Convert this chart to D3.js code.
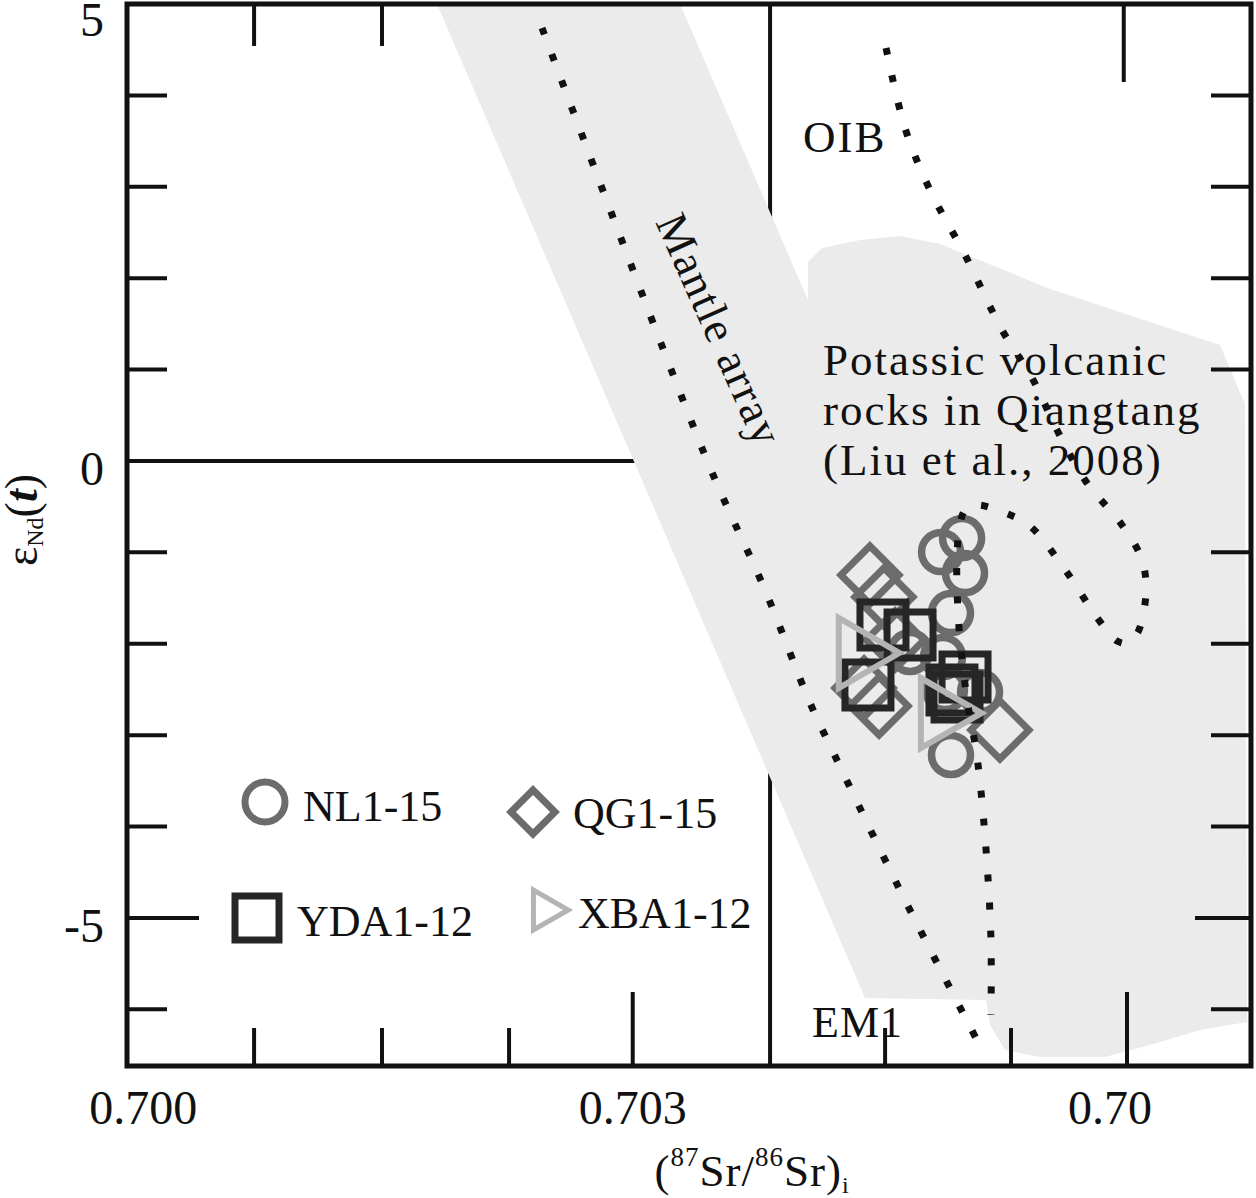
<!DOCTYPE html>
<html><head><meta charset="utf-8">
<script src="https://cdn.jsdelivr.net/npm/d3@7"></script>
<style>
html,body{margin:0;padding:0;background:#fff;}
svg{display:block;}
text{font-family:"Liberation Serif","Times New Roman",serif;fill:#111;}
</style></head><body>
<svg id="chart" width="1256" height="1198"></svg>
<script>
// ---------------- data ----------------
const xDomain = [0.69990, 0.70679];
const yDomain = [-6.62, 5];

const xMinorBottom = [0.700679, 0.701463, 0.702242, 0.704547, 0.705319];
const xMajorBottom = [0.703, 0.70603];
const xMinorTop = [0.700679, 0.701463];
const xMajorTop = [0.70601];
const xLabelValues = [0.700, 0.703, 0.706];
const xLabelTexts = ["0.700", "0.703", "0.70"];

const yMinorLeft = [-6, -4, -3, -2, -1, 1, 2, 3, 4];
const yMajorLeft = [-5];
const yMinorRight = [-6, -4, -3, -2, -1, 1, 2, 3, 4];
const yMajorRight = [-5];
const yLabelValues = [5, 0, -5];
const yLabelTexts = ["5", "0", "-5"];

const bulkSr = 0.703842;   // vertical reference line
const bulkNd = 0;          // horizontal reference line

// grey field: Mantle array band + potassic volcanic rocks of Qiangtang
const greyField = [
  [0.701800, 5.000], [0.703290, 5.000], [0.704074, 1.761], [0.704074, 2.177],
  [0.704160, 2.330], [0.704393, 2.418], [0.704638, 2.461], [0.704884, 2.374],
  [0.705558, 1.882], [0.706600, 1.269], [0.706753, 0.623], [0.706766, -6.139],
  [0.706477, -6.226], [0.706171, -6.391], [0.705895, -6.522], [0.705497, -6.522],
  [0.705282, -6.445], [0.705190, -6.172], [0.705166, -5.898], [0.704424, -5.876]
];

const mantleLine = [
  [0.702444, 4.737], [0.703462, -0.022], [0.703811, -1.412], [0.704087, -2.648],
  [0.704240, -3.228], [0.704638, -4.695], [0.705110, -6.336]
];

const oibLine = [
  [0.704553, 4.519], [0.704669, 3.643], [0.704822, 2.965], [0.705037, 2.254],
  [0.705264, 1.433], [0.705448, 0.908], [0.705607, 0.317], [0.705772, -0.208],
  [0.705999, -0.701], [0.706110, -1.029], [0.706146, -1.303], [0.706140, -1.565],
  [0.706097, -1.872], [0.706036, -1.992], [0.705969, -1.970], [0.705852, -1.729],
  [0.705656, -1.204], [0.705435, -0.712], [0.705282, -0.569], [0.705110, -0.482],
  [0.705037, -0.537], [0.704994, -0.865], [0.704994, -1.653], [0.705049, -2.605],
  [0.705110, -3.228], [0.705166, -4.257], [0.705196, -5.242], [0.705196, -6.062]
];

const NL = [
  [0.705019, -0.843], [0.704890, -0.996], [0.705037, -1.226], [0.704951, -1.664],
  [0.704700, -2.090], [0.704902, -2.145], [0.704914, -2.506], [0.705129, -2.528],
  [0.704951, -3.217]
];
const QG = [
  [0.704454, -1.248], [0.704540, -1.489], [0.704608, -1.959], [0.704418, -2.484],
  [0.704510, -2.681], [0.705251, -2.944]
];
const YDA = [
  [0.704534, -1.795], [0.704700, -1.904], [0.704442, -2.452], [0.705037, -2.364],
  [0.704988, -2.583], [0.704957, -2.506]
];
const XBA = [
  [0.704387, -2.101], [0.704890, -2.758]
];

const legendItems = ["NL1-15", "QG1-15", "YDA1-12", "XBA1-12"];

// ---------------- drawing ----------------
const svg = d3.select("#chart");
const plot = {left: 127, right: 1251, top: 4, bottom: 1066};
const x = d3.scaleLinear().domain(xDomain).range([plot.left, plot.right]);
const y = d3.scaleLinear().domain(yDomain).range([plot.bottom, plot.top]);

const colNL = "#6c6c6c", colQG = "#6c6c6c", colYDA = "#262626", colXBA = "#b4b4b4";
const black = "#111";

// reference lines (under the grey field)
svg.append("line").attr("x1", plot.left).attr("x2", x(bulkSr))
  .attr("y1", y(bulkNd)).attr("y2", y(bulkNd)).attr("stroke", black).attr("stroke-width", 4);
svg.append("line").attr("x1", x(bulkSr)).attr("x2", x(bulkSr))
  .attr("y1", plot.top).attr("y2", plot.bottom).attr("stroke", black).attr("stroke-width", 4);

// grey field
svg.append("path").datum(greyField)
  .attr("d", d3.line().x(d => x(d[0])).y(d => y(d[1])).curve(d3.curveLinearClosed))
  .attr("fill", "#ebebeb").attr("stroke", "none");

// markers
const gM = svg.append("g");
function symbols(data, type, size, color, sw, rot) {
  gM.selectAll(null).data(data).enter().append("path")
    .attr("d", d3.symbol().type(type).size(size)())
    .attr("transform", d => `translate(${x(d[0])},${y(d[1])}) rotate(${rot})`)
    .attr("fill", "none").attr("stroke", color).attr("stroke-width", sw);
}
symbols(QG, d3.symbolSquare, 1682, colQG, 7, 45);
symbols(NL, d3.symbolCircle, 1195, colNL, 7.5, 0);
symbols(YDA, d3.symbolSquare, 2116, colYDA, 7, 0);
symbols(XBA, d3.symbolTriangle, 2121, colXBA, 6, 90);

// dotted lines
const dotted = d3.line().x(d => x(d[0])).y(d => y(d[1])).curve(d3.curveCatmullRom.alpha(0.5));
[mantleLine, oibLine].forEach(pts => {
  svg.append("path").datum(pts).attr("d", dotted)
    .attr("fill", "none").attr("stroke", black).attr("stroke-width", 7)
    .attr("stroke-dasharray", "7,21").attr("stroke-linecap", "butt");
});

// axes ticks
const gA = svg.append("g").attr("stroke", black).attr("stroke-width", 4);
function vTicks(vals, yFrom, len) {
  gA.selectAll(null).data(vals).enter().append("line")
    .attr("x1", d => x(d)).attr("x2", d => x(d))
    .attr("y1", yFrom).attr("y2", yFrom + len);
}
function hTicks(vals, xFrom, len) {
  gA.selectAll(null).data(vals).enter().append("line")
    .attr("y1", d => y(d)).attr("y2", d => y(d))
    .attr("x1", xFrom).attr("x2", xFrom + len);
}
vTicks(xMinorBottom, plot.bottom, -38);
vTicks(xMajorBottom, plot.bottom, -74);
vTicks(xMinorTop, plot.top, 42);
vTicks(xMajorTop, plot.top, 78);
hTicks(yMinorLeft, plot.left, 40);
hTicks(yMajorLeft, plot.left, 72);
hTicks(yMinorRight, plot.right, -40);
hTicks(yMajorRight, plot.right, -56);

// frame
svg.append("rect").attr("x", plot.left).attr("y", plot.top)
  .attr("width", plot.right - plot.left).attr("height", plot.bottom - plot.top)
  .attr("fill", "none").attr("stroke", black).attr("stroke-width", 5);

// tick labels
svg.selectAll(null).data(xLabelValues).enter().append("text")
  .attr("x", d => x(d)).attr("y", 1124)
  .attr("dx", (d, i) => xLabelTexts[i].length < 5 ? "-0.25em" : 0)
  .attr("text-anchor", "middle").attr("font-size", 48)
  .text((d, i) => xLabelTexts[i]);
svg.selectAll(null).data(yLabelValues).enter().append("text")
  .attr("x", 104).attr("y", d => Math.max(y(d) + 24, 36))
  .attr("text-anchor", "end").attr("font-size", 48)
  .text((d, i) => yLabelTexts[i]);

// axis titles
const xt = svg.append("text").attr("x", 752).attr("y", 1186).attr("text-anchor", "middle")
  .attr("font-size", 45).attr("letter-spacing", 1);
xt.append("tspan").text("(");
xt.append("tspan").attr("font-size", 27).attr("dy", -20).text("87");
xt.append("tspan").attr("dy", 20).text("Sr/");
xt.append("tspan").attr("font-size", 27).attr("dy", -20).text("86");
xt.append("tspan").attr("dy", 20).text("Sr)");
xt.append("tspan").attr("font-size", 24).attr("dy", 7).text("i");

const yt = svg.append("text").attr("transform", "translate(37,520) rotate(-90)")
  .attr("text-anchor", "middle").attr("font-size", 46);
yt.append("tspan").text("ε");
yt.append("tspan").attr("font-size", 24).attr("dy", 6).text("Nd");
yt.append("tspan").attr("dy", -6).text("(");
yt.append("tspan").attr("font-style", "italic").attr("font-weight", "bold").text("t");
yt.append("tspan").text(")");

// annotations
svg.append("text").attr("x", 803).attr("y", 152).attr("font-size", 45)
  .attr("letter-spacing", 2).text("OIB");
svg.append("text").attr("x", 812).attr("y", 1037).attr("font-size", 44)
  .attr("letter-spacing", 1).text("EM1");
svg.append("text").attr("transform", "translate(655,222) rotate(66)")
  .attr("font-size", 45).attr("letter-spacing", 1.5).text("Mantle array");
["Potassic volcanic", "rocks in Qiangtang", "(Liu et al., 2008)"].forEach((t, i) => {
  svg.append("text").attr("x", 823).attr("y", 375 + i * 50)
    .attr("font-size", 45).attr("letter-spacing", 2).text(t);
});

// legend
const lg = svg.append("g");
const legendPos = [
  {sx: 265, sy: 802, tx: 303, ty: 821},
  {sx: 533, sy: 812, tx: 573, ty: 828},
  {sx: 257, sy: 918, tx: 297, ty: 936},
  {sx: 545, sy: 910, tx: 578, ty: 928}
];
const legendSym = [
  {type: d3.symbolCircle, size: 1257, color: colNL, sw: 7, rot: 0},
  {type: d3.symbolSquare, size: 968, color: colQG, sw: 7, rot: 45},
  {type: d3.symbolSquare, size: 1936, color: colYDA, sw: 7, rot: 0},
  {type: d3.symbolTriangle, size: 693, color: colXBA, sw: 5, rot: 90}
];
legendItems.forEach((name, i) => {
  const p = legendPos[i], s = legendSym[i];
  lg.append("path").attr("d", d3.symbol().type(s.type).size(s.size)())
    .attr("transform", `translate(${p.sx},${p.sy}) rotate(${s.rot})`)
    .attr("fill", "none").attr("stroke", s.color).attr("stroke-width", s.sw);
  lg.append("text").attr("x", p.tx).attr("y", p.ty).attr("font-size", 44).text(name);
});
</script>
</body></html>
